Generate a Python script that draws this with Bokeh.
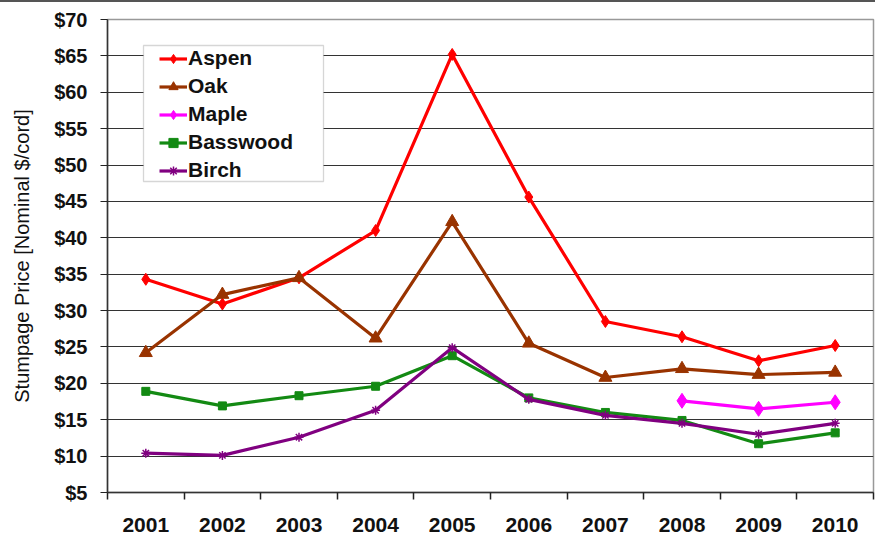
from bokeh.plotting import figure
from bokeh.embed import file_html
from bokeh.resources import INLINE
from bokeh.models import FixedTicker, NumeralTickFormatter, Range1d, Legend, LegendItem, BoxAnnotation

years = [2001, 2002, 2003, 2004, 2005, 2006, 2007, 2008, 2009, 2010]
aspen = [34.3, 30.9, 34.5, 41.0, 65.2, 45.6, 28.5, 26.4, 23.1, 25.2]
oak = [24.2, 32.2, 34.5, 26.2, 42.2, 25.5, 20.8, 22.0, 21.2, 21.5]
maple_years = [2008, 2009, 2010]
maple = [17.6, 16.5, 17.4]
basswood = [18.9, 16.9, 18.3, 19.6, 23.8, 18.0, 16.0, 14.9, 11.7, 13.2]
birch = [10.4, 10.1, 12.6, 16.3, 24.9, 17.8, 15.6, 14.5, 13.0, 14.5]
y_ticks = [5, 10, 15, 20, 25, 30, 35, 40, 45, 50, 55, 60, 65, 70]

FONT = "Liberation Sans"

W, H = 875, 534
BL, BR, BT, BB = 107, 2, 17, 44
X0, X1, Y0, Y1 = 2000.5, 2010.5, 5, 70

p = figure(width=W, height=H, output_backend="svg", toolbar_location=None,
           x_range=Range1d(X0, X1), y_range=Range1d(Y0, Y1),
           min_border_left=BL, min_border_right=BR, min_border_top=BT, min_border_bottom=BB)
p.styles = {"border-top": "2px solid #555555"}

p.background_fill_color = "white"
p.border_fill_color = "white"
p.outline_line_color = "#999999"
p.outline_line_width = 1.5

# grids
p.xgrid.grid_line_color = None
p.ygrid.grid_line_color = "#333333"
p.ygrid.grid_line_width = 1.2
p.ygrid.ticker = FixedTicker(ticks=y_ticks)

# x axis
xa = p.xaxis[0]
xa.ticker = FixedTicker(ticks=years, minor_ticks=[y + 0.5 for y in range(2000, 2011)])
xa.major_tick_line_color = None
xa.major_tick_out = 0
xa.major_tick_in = 0
xa.minor_tick_line_color = "#222222"
xa.minor_tick_line_width = 1.5
xa.minor_tick_out = 7
xa.minor_tick_in = 0
xa.axis_line_color = "#333333"
xa.axis_line_width = 1.5
xa.major_label_text_font = FONT
xa.major_label_text_font_style = "bold"
xa.major_label_text_font_size = "21px"
xa.major_label_text_color = "#111111"
xa.major_label_standoff = 18

# y axis
ya = p.yaxis[0]
ya.ticker = FixedTicker(ticks=y_ticks)
ya.formatter = NumeralTickFormatter(format="$0")
ya.minor_tick_line_color = None
ya.major_tick_line_color = "#222222"
ya.major_tick_line_width = 1.2
ya.major_tick_out = 7
ya.major_tick_in = 0
ya.axis_line_color = "#333333"
ya.axis_line_width = 1.5
ya.major_label_text_font = FONT
ya.major_label_text_font_style = "bold"
ya.major_label_text_font_size = "20px"
ya.major_label_text_color = "#111111"
ya.major_label_standoff = 13
ya.axis_label = "Stumpage Price [Nominal $/cord]"
ya.axis_label_text_font = FONT
ya.axis_label_text_font_style = "normal"
ya.axis_label_text_font_size = "20px"
ya.axis_label_text_color = "#111111"
ya.axis_label_standoff = 18

# legend frame box (screen pixel positions converted to data space)
TOP_OFF = 2  # canvas offset caused by the top border line
fw = W - BL - BR
fh = H - BT - BB
def px_x(px):
    return X0 + (px - BL) / fw * (X1 - X0)
def px_y(py):
    return Y1 - (py - TOP_OFF - BT) / fh * (Y1 - Y0)

box = BoxAnnotation(left=px_x(143), right=px_x(323), top=px_y(45), bottom=px_y(181),
                    fill_color="white", fill_alpha=1.0, line_color="#777777", line_width=1.3)

items = []
series = [
    ("Aspen", years, aspen, "#FF0000", "diamond", 12),
    ("Oak", years, oak, "#993300", "triangle", 13),
    ("Maple", maple_years, maple, "#FF00FF", "diamond", 15),
    ("Basswood", years, basswood, "#138A13", "square", 8),
    ("Birch", years, birch, "#800080", "asterisk", 9),
]
for name, xs, ys, color, marker, size in series:
    r1 = p.line(xs, ys, line_color=color, line_width=3.2)
    r2 = p.scatter(xs, ys, marker=marker, size=size, fill_color=color, line_color=color,
                   line_width=1.5 if marker == "asterisk" else 1)
    items.append(LegendItem(label=name, renderers=[r1, r2]))

p.add_layout(box)

legend = Legend(items=items, location=(52, 310))
legend.label_text_font = FONT
legend.label_text_font_style = "bold"
legend.label_text_font_size = "21px"
legend.label_text_color = "#111111"
legend.border_line_color = None
legend.background_fill_alpha = 0
legend.glyph_width = 28
legend.glyph_height = 23
legend.label_height = 23
legend.label_standoff = 1
legend.spacing = 4
legend.padding = 3
legend.margin = 0
p.add_layout(legend, "center")

open("out.html", "w").write(file_html(p, INLINE))
